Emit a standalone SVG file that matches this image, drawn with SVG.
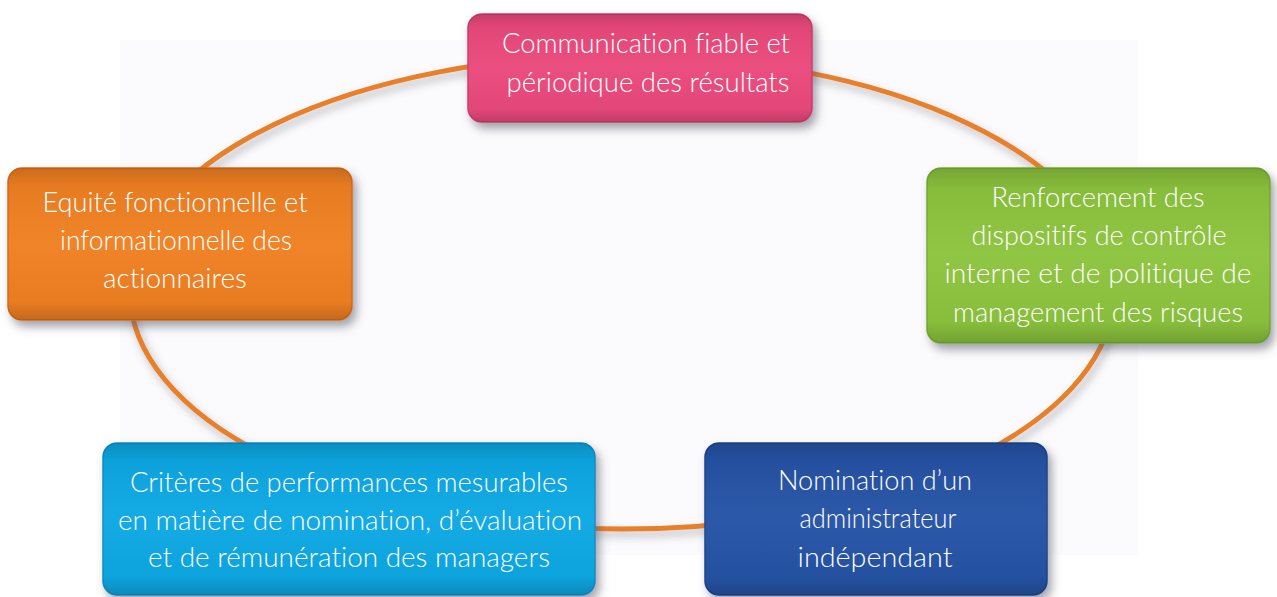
<svg xmlns="http://www.w3.org/2000/svg" width="1277" height="597" viewBox="0 0 1277 597">
<style>
.lbl{font-family:"Lato","Open Sans","Liberation Sans",sans-serif;font-weight:300;font-size:27px;fill:#ffffff;text-anchor:middle;font-variant-ligatures:none}
.box{stroke-width:1.5;filter:url(#shadow)}
.gloss{fill:url(#gloss)}
</style>
<defs>
<filter id="shadow" x="-10%" y="-15%" width="125%" height="140%">
<feDropShadow dx="4" dy="6" stdDeviation="5" flood-color="#5a5a6a" flood-opacity="0.55"/>
</filter>
<filter id="lshadow" x="-5%" y="-5%" width="110%" height="115%">
<feDropShadow dx="3" dy="5" stdDeviation="4" flood-color="#606070" flood-opacity="0.45"/>
</filter>
<linearGradient id="gloss" x1="0" y1="0" x2="0" y2="1">
<stop offset="0" stop-color="#000" stop-opacity="0.16"/>
<stop offset="0.12" stop-color="#000" stop-opacity="0.04"/>
<stop offset="0.5" stop-color="#fff" stop-opacity="0.03"/>
<stop offset="0.88" stop-color="#000" stop-opacity="0.03"/>
<stop offset="1" stop-color="#000" stop-opacity="0.18"/>
</linearGradient>
</defs>
<rect width="1277" height="597" fill="#ffffff"/>
<rect x="120" y="40" width="1018" height="515" fill="#fbfbfd"/>
<g id="connectors">
<ellipse cx="622" cy="292" rx="492" ry="237" fill="none" stroke="#e8802c" stroke-width="5" filter="url(#lshadow)"/>
</g>
<g id="node-communication">
<rect class="box" x="468" y="14" width="344" height="108" rx="14" fill="#ea4a7b" stroke="#d03d6a"/>
<rect class="gloss" x="468" y="14" width="344" height="108" rx="14"/>
<text class="lbl" x="646" y="53" textLength="288" lengthAdjust="spacingAndGlyphs">Communication fiable et</text>
<text class="lbl" x="648" y="92" textLength="283" lengthAdjust="spacingAndGlyphs">périodique des résultats</text>
</g>
<g id="node-equite">
<rect class="box" x="8" y="168" width="344" height="152" rx="14" fill="#f08020" stroke="#d86c18"/>
<rect class="gloss" x="8" y="168" width="344" height="152" rx="14"/>
<text class="lbl" x="175" y="212" textLength="265" lengthAdjust="spacingAndGlyphs">Equité fonctionnelle et</text>
<text class="lbl" x="176" y="250" textLength="232" lengthAdjust="spacingAndGlyphs">informationnelle des</text>
<text class="lbl" x="175" y="288" textLength="144" lengthAdjust="spacingAndGlyphs">actionnaires</text>
</g>
<g id="node-renforcement">
<rect class="box" x="927" y="168" width="343" height="175" rx="14" fill="#8cc43c" stroke="#78ac34"/>
<rect class="gloss" x="927" y="168" width="343" height="175" rx="14"/>
<text class="lbl" x="1098" y="207" textLength="213" lengthAdjust="spacingAndGlyphs">Renforcement des</text>
<text class="lbl" x="1099" y="245" textLength="255" lengthAdjust="spacingAndGlyphs">dispositifs de contrôle</text>
<text class="lbl" x="1098" y="283" textLength="307" lengthAdjust="spacingAndGlyphs">interne et de politique de</text>
<text class="lbl" x="1098" y="322" textLength="290" lengthAdjust="spacingAndGlyphs">management des risques</text>
</g>
<g id="node-criteres">
<rect class="box" x="103" y="443" width="492" height="152" rx="14" fill="#08a8e4" stroke="#0890c8"/>
<rect class="gloss" x="103" y="443" width="492" height="152" rx="14"/>
<text class="lbl" x="349" y="492" textLength="438" lengthAdjust="spacingAndGlyphs">Critères de performances mesurables</text>
<text class="lbl" x="350" y="530" textLength="464" lengthAdjust="spacingAndGlyphs">en matière de nomination, d’évaluation</text>
<text class="lbl" x="349" y="567" textLength="402" lengthAdjust="spacingAndGlyphs">et de rémunération des managers</text>
</g>
<g id="node-nomination">
<rect class="box" x="705" y="443" width="342" height="152" rx="14" fill="#2553a6" stroke="#1e4590"/>
<rect class="gloss" x="705" y="443" width="342" height="152" rx="14"/>
<text class="lbl" x="875" y="490" textLength="194" lengthAdjust="spacingAndGlyphs">Nomination d’un</text>
<text class="lbl" x="878" y="528" textLength="157" lengthAdjust="spacingAndGlyphs">administrateur</text>
<text class="lbl" x="875" y="567" textLength="155" lengthAdjust="spacingAndGlyphs">indépendant</text>
</g>
</svg>
